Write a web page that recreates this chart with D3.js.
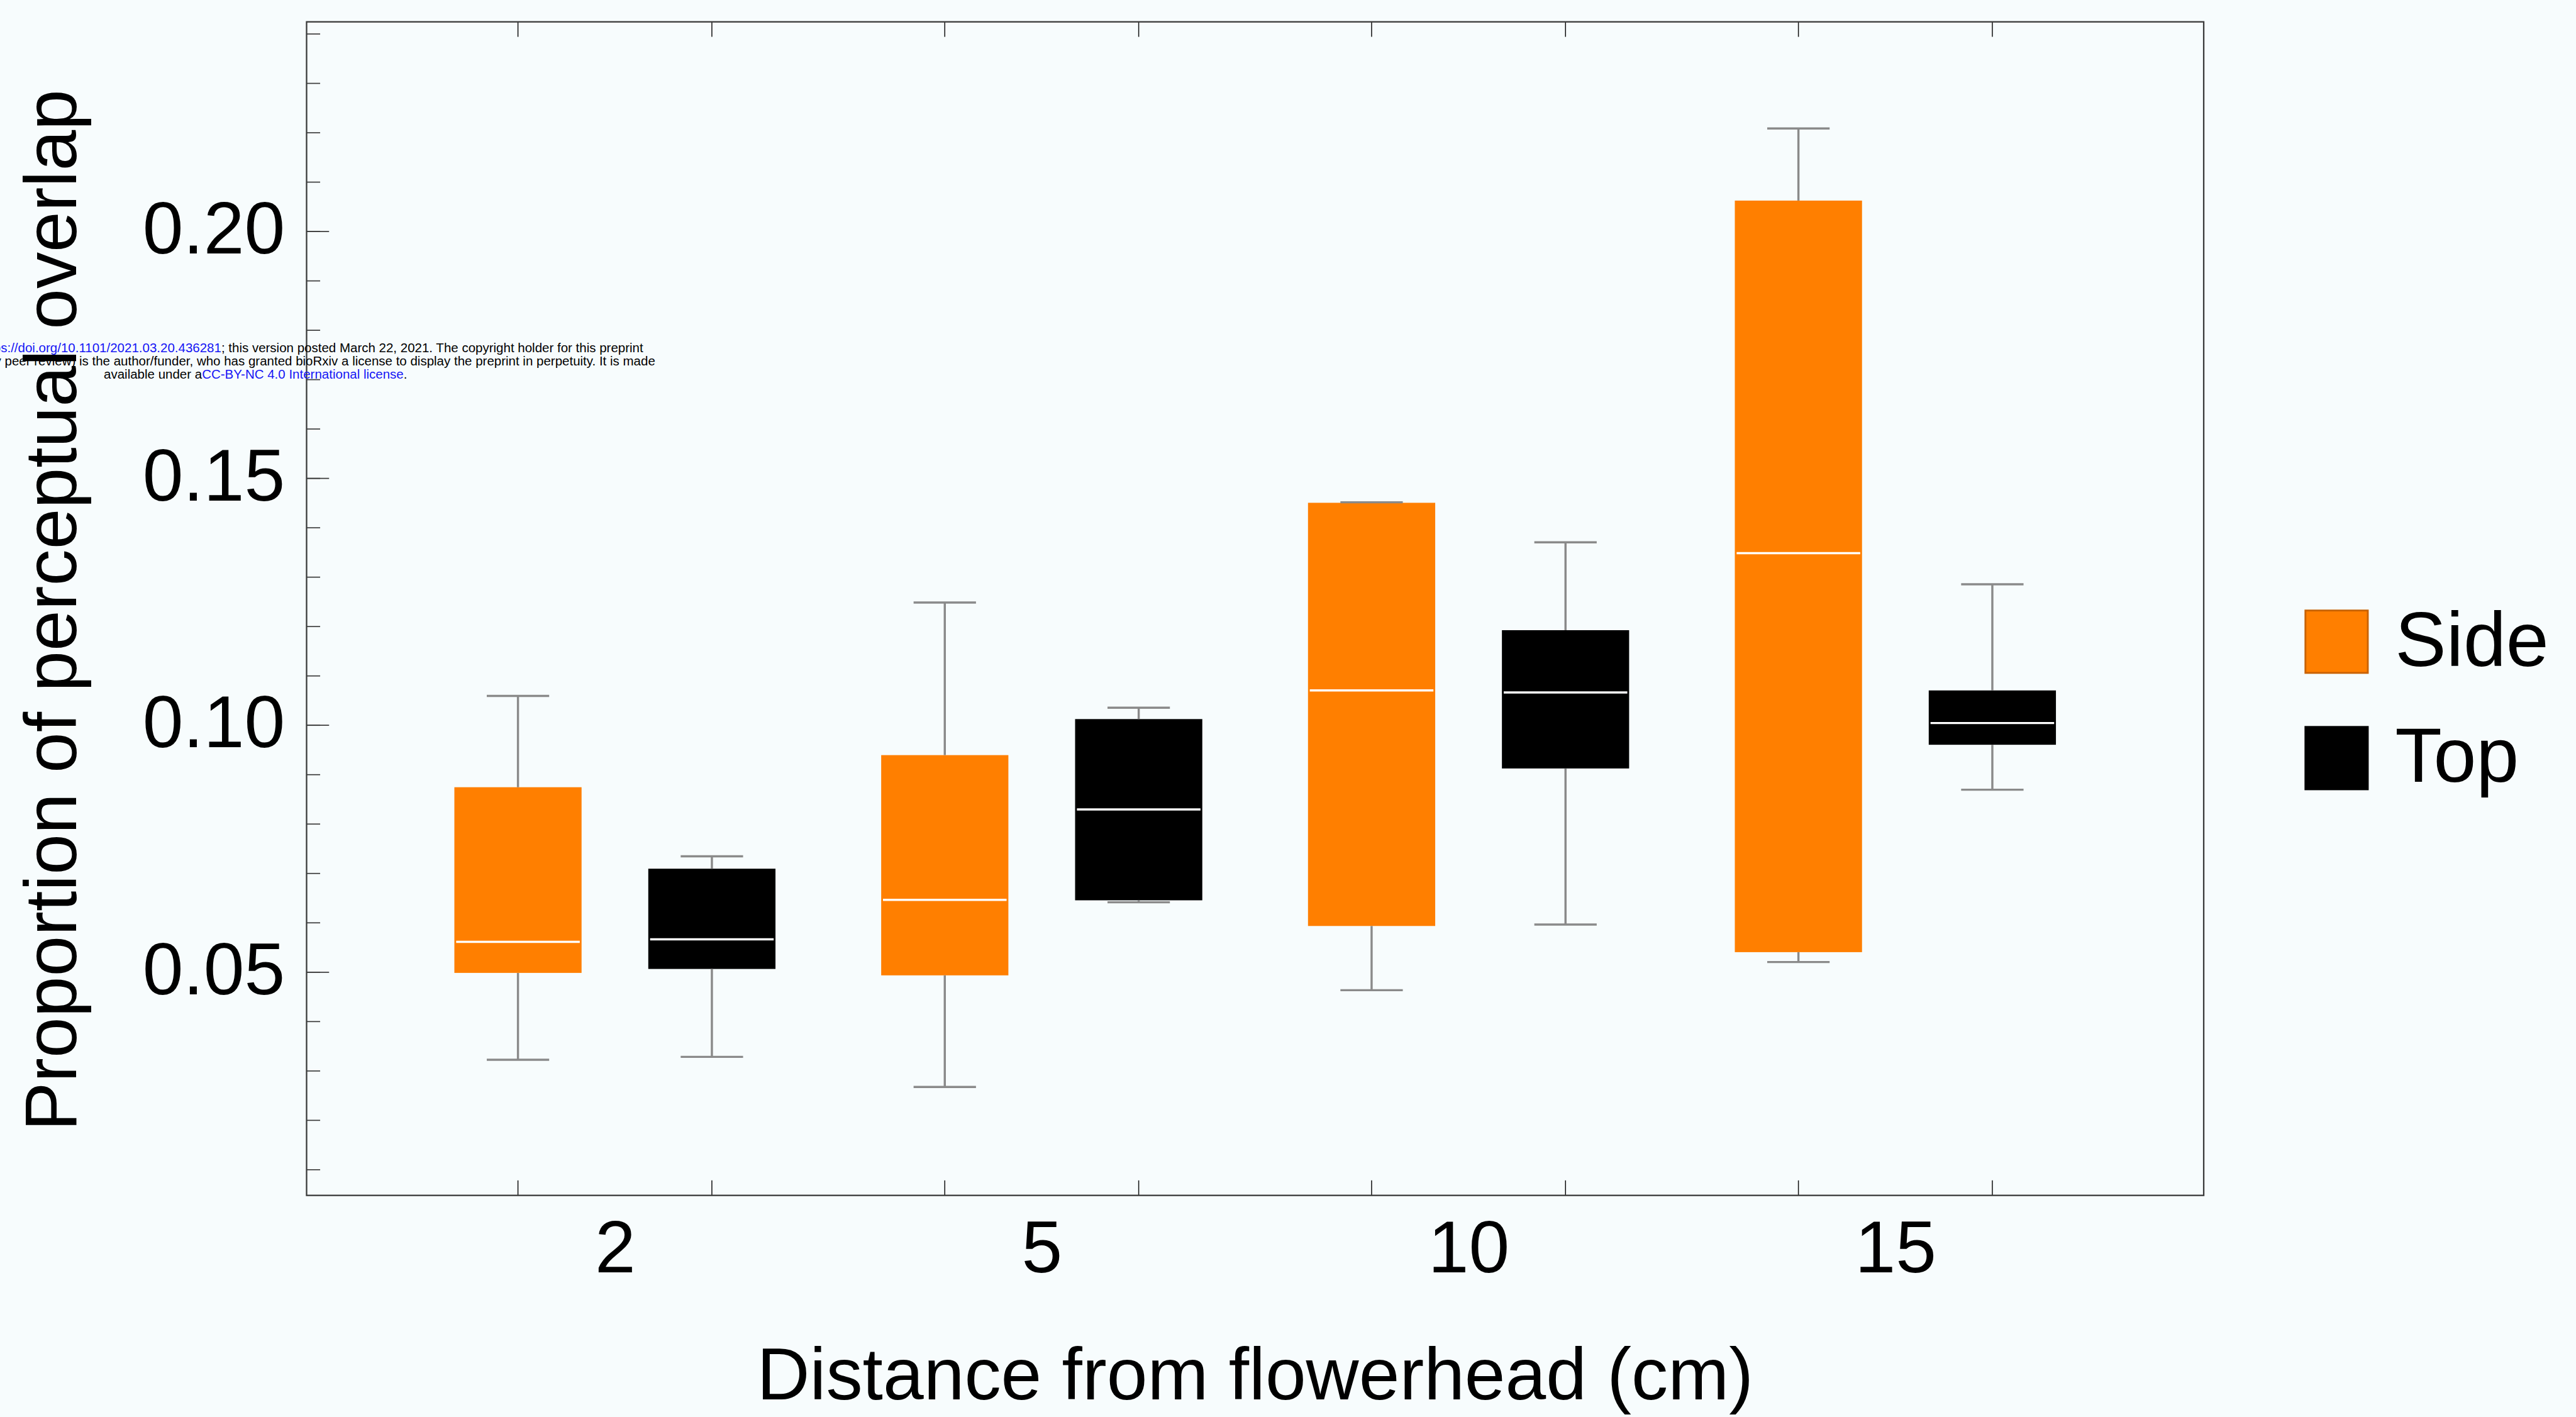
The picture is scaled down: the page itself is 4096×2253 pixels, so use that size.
<!DOCTYPE html>
<html>
<head>
	<title>Perceptual overlap</title>
	<script src="https://d3js.org/d3.v7.min.js"></script>
	<style>
		body { margin: 0; background: #f7fcfd; }
		svg { display: block; }
	</style>
</head>
<body>
	<script>
		// data
		const distances = ["2", "5", "10", "15"]
		const views = ["Side", "Top"]

		const sideLow  = [0.0322, 0.0267, 0.0463, 0.0520]
		const sideQ1   = [0.0498, 0.0493, 0.0593, 0.0540]
		const sideMed  = [0.0561, 0.0646, 0.1070, 0.1348]
		const sideQ3   = [0.0874, 0.0939, 0.1450, 0.2062]
		const sideHigh = [0.1059, 0.1248, 0.1451, 0.2208]

		const topLow  = [0.0328, 0.0641, 0.0596, 0.0869]
		const topQ1   = [0.0506, 0.0645, 0.0912, 0.0960]
		const topMed  = [0.0566, 0.0829, 0.1066, 0.1004]
		const topQ3   = [0.0709, 0.1012, 0.1192, 0.1070]
		const topHigh = [0.0734, 0.1035, 0.1370, 0.1285]

		const yMajor = [0.05, 0.10, 0.15, 0.20]
		const yMinor = d3.range(1, 25).map(i => i / 100)

		const colors = { Side: "#ff7f00", Top: "#000000" }
		const font = "'Liberation Sans', Arial, Helvetica, sans-serif"

		let boxes = []
		distances.forEach((d, i) => {
			boxes.push({ dist: d, view: "Side", low: sideLow[i], q1: sideQ1[i], med: sideMed[i], q3: sideQ3[i], high: sideHigh[i] })
			boxes.push({ dist: d, view: "Top", low: topLow[i], q1: topQ1[i], med: topMed[i], q3: topQ3[i], high: topHigh[i] })
		})

		const svg = d3.select("body").append("svg")
			.attr("width", 4096)
			.attr("height", 2253)

		svg.append("rect")
			.attr("width", 4096)
			.attr("height", 2253)
			.attr("fill", "#f7fcfd")

		// everything below is laid out in reference pixels, then shrunk
		const g = svg.append("g").attr("transform", "scale(0.954)")

		const margin = { top: 36.4, right: 618, bottom: 367.7, left: 511 }
		const width = 4291
		const height = 2360

		const x = d3.scalePoint()
			.domain(distances)
			.range([margin.left, width - margin.right])
			.padding(0.7224)

		const sub = d3.scalePoint()
			.domain(views)
			.range([-161.6, 161.6])

		const y = d3.scaleLinear()
			.domain([0.00474, 0.2424])
			.range([height - margin.bottom, margin.top])

		const boxW = 212
		const capW = 104
		const cx = d => x(d.dist) + sub(d.view)

		// minor ticks
		g.append("g")
			.attr("transform", `translate(${margin.left},0)`)
			.call(d3.axisLeft(y).tickValues(yMinor).tickSize(-22.6).tickFormat(""))
			.call(a => a.select(".domain").remove())
			.call(a => a.selectAll("line").attr("stroke", "#3d3d3d").attr("stroke-width", 1.8))

		// major ticks and labels
		g.append("g")
			.attr("transform", `translate(${margin.left},0)`)
			.call(d3.axisLeft(y).tickValues(yMajor).tickSize(-37.5).tickPadding(36).tickFormat(d3.format(".2f")))
			.call(a => a.select(".domain").remove())
			.call(a => a.selectAll("line").attr("stroke", "#3d3d3d").attr("stroke-width", 1.8))
			.call(a => a.selectAll("text")
				.attr("dy", "0.30em")
				.attr("fill", "#000")
				.style("font", `122px ${font}`))

		// x ticks at every box centre, top and bottom
		g.append("g").selectAll("line.bt")
			.data(boxes)
			.join("line")
			.attr("x1", cx).attr("x2", cx)
			.attr("y1", height - margin.bottom).attr("y2", height - margin.bottom - 25)
			.attr("stroke", "#111").attr("stroke-width", 1.6)

		g.append("g").selectAll("line.tt")
			.data(boxes)
			.join("line")
			.attr("x1", cx).attr("x2", cx)
			.attr("y1", margin.top).attr("y2", margin.top + 25)
			.attr("stroke", "#111").attr("stroke-width", 1.6)

		// x labels
		g.append("g")
			.attr("transform", `translate(0,${height - margin.bottom})`)
			.call(d3.axisBottom(x).tickSize(0).tickPadding(0))
			.call(a => a.select(".domain").remove())
			.call(a => a.selectAll("text")
				.attr("y", 128)
				.attr("dy", 0)
				.attr("fill", "#000")
				.style("font", `122px ${font}`))

		// boxes
		g.append("g").selectAll("rect")
			.data(boxes)
			.join("rect")
			.attr("x", d => cx(d) - boxW / 2)
			.attr("width", boxW)
			.attr("y", d => y(d.q3))
			.attr("height", d => y(d.q1) - y(d.q3))
			.attr("fill", d => colors[d.view])

		// medians
		g.append("g").selectAll("line")
			.data(boxes)
			.join("line")
			.attr("x1", d => cx(d) - boxW / 2 + 3)
			.attr("x2", d => cx(d) + boxW / 2 - 3)
			.attr("y1", d => y(d.med))
			.attr("y2", d => y(d.med))
			.attr("stroke", "#ffffff")
			.attr("stroke-width", 3.6)

		// whiskers
		const wh = g.append("g")
			.attr("stroke", "#8a8a8a")
			.attr("stroke-width", 3.6)

		wh.selectAll("line.up")
			.data(boxes)
			.join("line")
			.attr("x1", cx).attr("x2", cx)
			.attr("y1", d => y(d.q3)).attr("y2", d => y(d.high))

		wh.selectAll("line.down")
			.data(boxes)
			.join("line")
			.attr("x1", cx).attr("x2", cx)
			.attr("y1", d => y(d.q1)).attr("y2", d => y(d.low))

		wh.selectAll("line.capHi")
			.data(boxes)
			.join("line")
			.attr("x1", d => cx(d) - capW / 2).attr("x2", d => cx(d) + capW / 2)
			.attr("y1", d => y(d.high)).attr("y2", d => y(d.high))

		wh.selectAll("line.capLo")
			.data(boxes)
			.join("line")
			.attr("x1", d => cx(d) - capW / 2).attr("x2", d => cx(d) + capW / 2)
			.attr("y1", d => y(d.low)).attr("y2", d => y(d.low))

		// frame
		g.append("rect")
			.attr("x", margin.left)
			.attr("y", margin.top)
			.attr("width", width - margin.left - margin.right)
			.attr("height", height - margin.top - margin.bottom)
			.attr("fill", "none")
			.attr("stroke", "#3a3a3a")
			.attr("stroke-width", 2.4)

		// axis titles
		g.append("text")
			.attr("x", (margin.left + width - margin.right) / 2)
			.attr("y", 2332)
			.attr("text-anchor", "middle")
			.style("font", `122px ${font}`)
			.text("Distance from flowerhead (cm)")

		g.append("text")
			.attr("transform", `translate(127,1017) rotate(-90)`)
			.attr("text-anchor", "middle")
			.style("font", `122px ${font}`)
			.text("Proportion of perceptual overlap")

		// legend
		const legend = g.append("g").selectAll("g")
			.data(views)
			.join("g")
			.attr("transform", (d, i) => `translate(3841,${1016 + i * 194})`)

		legend.append("rect")
			.attr("x", 1.5).attr("y", 1.5)
			.attr("width", 104).attr("height", 104)
			.attr("fill", d => colors[d])
			.attr("stroke", d => d === "Side" ? "#c86200" : "#000")
			.attr("stroke-width", 3)

		legend.append("text")
			.attr("x", 151)
			.attr("y", (d, i) => 94 + i * -1)
			.style("font", `128px ${font}`)
			.text(d => d)

		// bioRxiv stamp, cut by the left edge as in the source page
		const stamp = g.append("g")
			.style("font", `21.5px ${font}`)
			.attr("fill", "#000")

		const l1 = stamp.append("text").attr("x", 1072).attr("y", 587).attr("text-anchor", "end")
		l1.append("tspan").text("bioRxiv preprint doi: ")
		l1.append("tspan").attr("fill", "#1515f5").text("https://doi.org/10.1101/2021.03.20.436281")
		l1.append("tspan").text("; this version posted March 22, 2021. The copyright holder for this preprint")

		stamp.append("text").attr("x", 1092).attr("y", 609).attr("text-anchor", "end")
			.text("(which was not certified by peer review) is the author/funder, who has granted bioRxiv a license to display the preprint in perpetuity. It is made")

		const l3 = stamp.append("text").attr("x", 173).attr("y", 631)
		l3.append("tspan").text("available under a")
		l3.append("tspan").attr("fill", "#1515f5").text("CC-BY-NC 4.0 International license")
		l3.append("tspan").text(".")
	</script>
</body>
</html>
